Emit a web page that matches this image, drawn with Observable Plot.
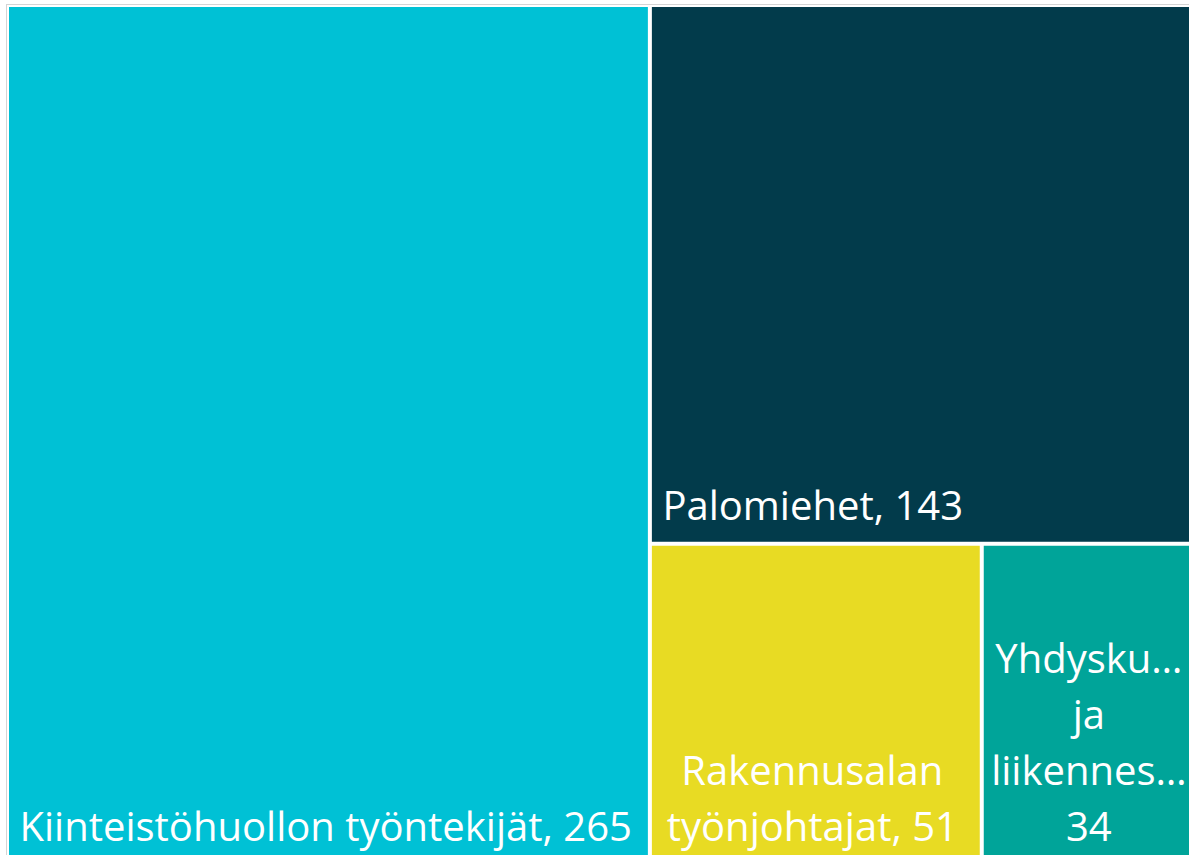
<!DOCTYPE html>
<html>
<head>
<meta charset="utf-8">
<script src="https://cdn.jsdelivr.net/npm/d3@7"></script>
<script src="https://cdn.jsdelivr.net/npm/@observablehq/plot@0.6"></script>
<style>
  html, body { margin: 0; padding: 0; background: #fff; overflow: hidden; }
  #chart svg { display: block; max-width: none !important; }
</style>
</head>
<body>
<div id="chart"></div>
<script>
// Data
const categories = ["Kiinteistöhuollon työntekijät", "Palomiehet", "Rakennusalan työnjohtajat", "Yhdysku… ja liikennes…"];
const values = [265, 143, 51, 34];
const labels = [
  "Kiinteistöhuollon työntekijät, 265",
  "Palomiehet, 143",
  "Rakennusalan\ntyönjohtajat, 51",
  "Yhdysku…\nja\nliikennes…\n34"
];
const colors = ["#00C1D5", "#023B4B", "#E8DB23", "#00A499"];
const labelAlign = ["start", "start", "middle", "middle"];

const W = 1192, H = 855;
const root = d3.hierarchy({children: categories.map((c, i) => ({name: c, value: values[i], label: labels[i], color: colors[i], align: labelAlign[i]}))})
  .sum(d => d.value || 0)
  .sort((a, b) => b.value - a.value);
d3.treemap().tile(d3.treemapSquarify.ratio(1)).size([W, H]).paddingInner(4)(root);
const leaves = root.leaves().map(l => ({...l.data, x0: l.x0, x1: l.x1, y0: l.y0, y1: l.y1}));

const font = "'Segoe UI', 'Open Sans', sans-serif";
const startLabels = leaves.filter(d => d.align === "start");
const midLabels = leaves.filter(d => d.align === "middle");

const chart = Plot.plot({
  width: 1215,
  height: 870,
  marginLeft: 6,
  marginTop: 4,
  marginRight: 0,
  marginBottom: 0,
  x: {domain: [0, W], range: [9, 9 + W], axis: null},
  y: {domain: [0, H], range: [7, 7 + H], axis: null},
  style: {fontFamily: font, background: "#fff", maxWidth: "none"},
  marks: [
    Plot.frame({stroke: "#d4d4d4"}),
    Plot.rect(leaves, {x1: "x0", x2: "x1", y1: "y0", y2: "y1", fill: d => d.color}),
    Plot.text(startLabels, {
      x: "x0", y: "y1", text: "label", fill: "#fff",
      textAnchor: "start", lineAnchor: "bottom", dx: 10, dy: -22,
      fontSize: 40, lineHeight: 1.4, fontFamily: font
    }),
    Plot.text(midLabels, {
      x: d => (d.x0 + d.x1) / 2, y: "y1", text: "label", fill: "#fff",
      textAnchor: "middle", lineAnchor: "bottom", dx: -4, dy: -22,
      fontSize: 40, lineHeight: 1.4, fontFamily: font
    })
  ]
});
document.getElementById("chart").appendChild(chart);
</script>
</body>
</html>
